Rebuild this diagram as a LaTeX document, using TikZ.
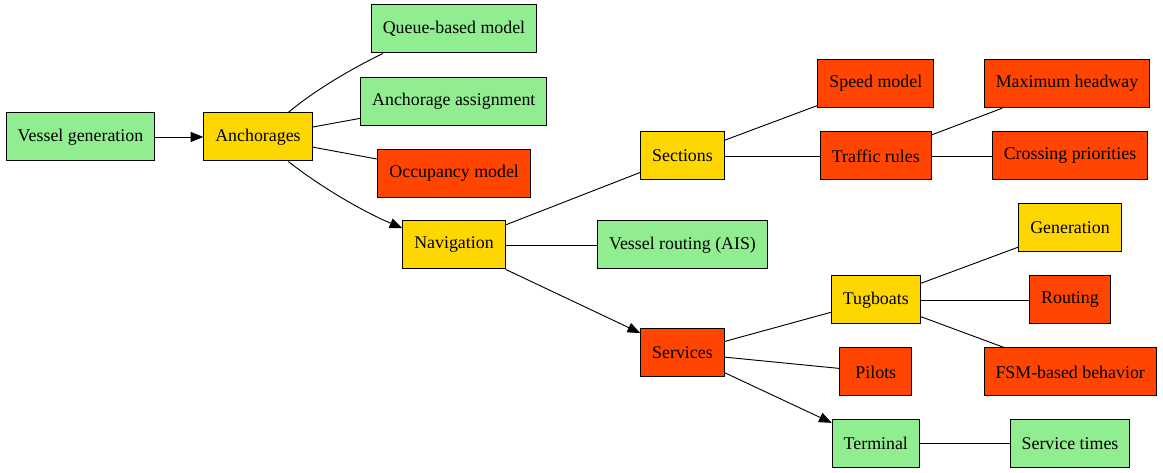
\documentclass[tikz,border=0pt]{standalone}
\usepackage{fontspec}
\setmainfont{Liberation Serif}
\usetikzlibrary{arrows.meta}
\definecolor{ColorA}{HTML}{90EE90}
\definecolor{ColorB}{HTML}{FFD700}
\definecolor{ColorC}{HTML}{FF4500}

\begin{document}
\begin{tikzpicture}[x=0.75pt, y=0.75pt,
module/.style={
	rectangle,
	draw=black,
	line width=0.75pt,
	minimum width=53.8pt,
	minimum height=36pt,
	inner xsep=8.6pt,
	font=\fontsize{13.4}{16}\selectfont,
	text=black},
link/.style={
	draw,
	line width=0.7pt,
	color=black},
post/.style={
	-{Triangle[length=9.5pt,width=7.5pt]},
	draw,
	line width=0.7pt,
	color=black}]

\useasboundingbox (0,0) rectangle (1163,-473);

%Modules

\node[module, fill=ColorA] (vgen) at (80.5,-137) {Vessel generation};
\node[module, fill=ColorB] (anch) at (258,-137) {Anchorages};

\node[module, fill=ColorA] (queue) at (454,-29) {Queue-based model};
\node[module, fill=ColorA] (assign) at (453.8,-101.3) {Anchorage assignment};
\node[module, fill=ColorC] (occ) at (454.2,-173.3) {Occupancy model};
\node[module, fill=ColorB] (nav) at (454,-245) {Navigation};

\node[module, fill=ColorB] (sect) at (682.5,-156) {Sections};
\node[module, fill=ColorA] (ais) at (682.5,-245) {Vessel routing (AIS)};
\node[module, fill=ColorC] (serv) at (682.5,-353) {Services};

\node[module, fill=ColorC] (speed) at (875.8,-83.7) {Speed model};
\node[module, fill=ColorC] (traffic) at (875.8,-156) {Traffic rules};
\node[module, fill=ColorB] (tug) at (875.8,-300) {Tugboats};
\node[module, fill=ColorC] (pilots) at (875.8,-372) {Pilots};
\node[module, fill=ColorA] (term) at (875.8,-443.5) {Terminal};

\node[module, fill=ColorC] (headway) at (1067,-83.7) {Maximum headway};
\node[module, fill=ColorC] (cross) at (1070,-156) {Crossing priorities};
\node[module, fill=ColorB] (gen) at (1070,-228) {Generation};
\node[module, fill=ColorC] (route) at (1070,-300) {Routing};
\node[module, fill=ColorC] (fsm) at (1070.2,-372) {FSM-based behavior};
\node[module, fill=ColorA] (stimes) at (1070,-443.5) {Service times};

%Connections

\path[post] (vgen) to (anch);
\path[link] (anch.39) .. controls +(40:35) and +(206:35) .. (queue.199);
\path[post] (anch.-39) .. controls +(-38:45) and +(157:40) .. (nav.162);
\path[post] (nav) to (serv);
\path[post] (serv) to (term);

\foreach \a/\b in {anch/assign, anch/occ, nav/sect, nav/ais, sect/speed, sect/traffic,
	traffic/headway, traffic/cross, serv/tug, serv/pilots, tug/gen, tug/route, tug/fsm, term/stimes} {
	\path[link] (\a) to (\b);
}

\end{tikzpicture}
\end{document}
